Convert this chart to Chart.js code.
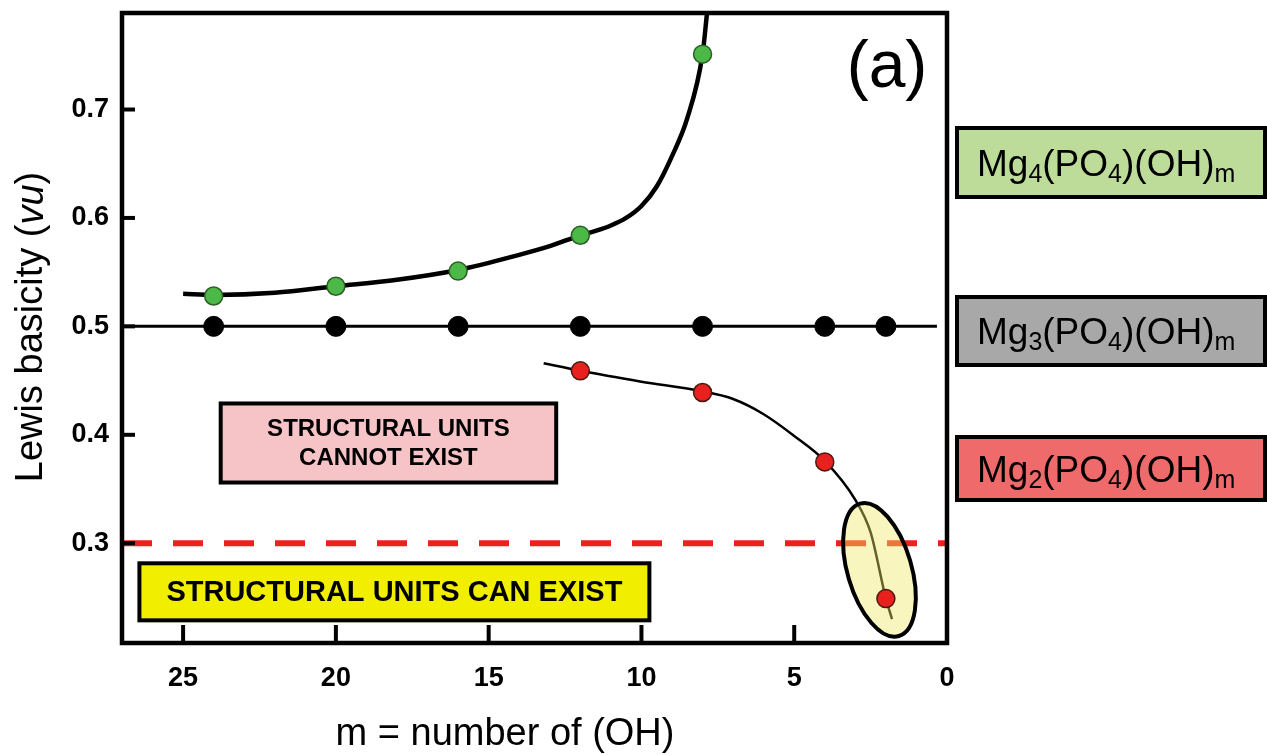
<!DOCTYPE html>
<html>
<head>
<meta charset="utf-8">
<script src="https://cdn.jsdelivr.net/npm/chart.js@4.4.1/dist/chart.umd.min.js"></script>
<style>
  html, body { margin: 0; padding: 0; background: #ffffff; }
  #wrap { width: 1267px; height: 755px; position: relative; }
</style>
</head>
<body>
<div id="wrap"><canvas id="chart"></canvas></div>
<script>
const FONT = "'Liberation Sans', Arial, Helvetica, sans-serif";

// m = number of (OH) groups, Lewis basicity in valence units
const mg4M  = [24, 20, 16, 12, 8];
const mg4LB = [0.528, 0.537, 0.551, 0.584, 0.751];

const mg3M  = [24, 20, 16, 12, 8, 4, 2];
const mg3LB = [0.5, 0.5, 0.5, 0.5, 0.5, 0.5, 0.5];

const mg2M  = [12, 8, 4, 2];
const mg2LB = [0.459, 0.439, 0.375, 0.249];

// trend curves through each family
const mg4FitM  = [25, 24, 22, 20, 18, 16, 14, 13, 12, 11.5, 11, 10.5, 10, 9.5, 9, 8.5, 8, 7.85];
const mg4FitLB = [0.530, 0.529, 0.531, 0.537, 0.543, 0.552, 0.566, 0.574, 0.584, 0.588, 0.593, 0.600, 0.611, 0.629, 0.657, 0.692, 0.751, 0.790];

const mg3FitM  = [27, 0.33];
const mg3FitLB = [0.5, 0.5];

const mg2FitM  = [13.2, 12, 10, 8, 7, 6, 5, 4, 3, 2.5, 2, 1.8];
const mg2FitLB = [0.466, 0.459, 0.449, 0.440, 0.433, 0.419, 0.399, 0.376, 0.340, 0.310, 0.249, 0.230];

// lower limit of Lewis basicity for stable structural units
const thresholdLB = 0.3;

// axis ticks
const xTicks = [25, 20, 15, 10, 5, 0];
const yTicks = [0.3, 0.4, 0.5, 0.6, 0.7];

// highlighted member (m = 2) marked by an ellipse
const highlightM = 2.21;
const highlightLB = 0.2755;

const pts = (xs, ys) => xs.map((x, i) => ({ x: x, y: ys[i] }));

// region labels, placed in data coordinates
const regionBoxes = [
  { x0: 23.77, x1: 12.79, y0: 0.4289, y1: 0.356, fill: '#f6c3c7',
    lines: ['STRUCTURAL UNITS', 'CANNOT EXIST'], size: 24, lineGap: 29 },
  { x0: 26.43, x1: 9.74, y0: 0.2815, y1: 0.2289, fill: '#f2ee00',
    lines: ['STRUCTURAL UNITS CAN EXIST'], size: 29, lineGap: 0 }
];

// formula legend on the right
const legendItems = [
  { top: 128, bottom: 197, fill: '#bddc9a', parts: [['Mg', 0], ['4', 1], ['(PO', 0], ['4', 1], [')(OH)', 0], ['m', 1]] },
  { top: 297, bottom: 365, fill: '#a8a8a8', parts: [['Mg', 0], ['3', 1], ['(PO', 0], ['4', 1], [')(OH)', 0], ['m', 1]] },
  { top: 437, bottom: 500, fill: '#ef6a6a', parts: [['Mg', 0], ['2', 1], ['(PO', 0], ['4', 1], [')(OH)', 0], ['m', 1]] }
];

const decorations = {
  id: 'decorations',
  afterDatasetDraw(chart, args) {
    const ds = chart.data.datasets[args.index];
    if (ds.id !== 'mg2Fit') return;
    const ctx = chart.ctx, xs = chart.scales.x, ys = chart.scales.y;
    const cx = xs.getPixelForValue(highlightM), cy = ys.getPixelForValue(highlightLB);
    ctx.save();
    ctx.beginPath();
    ctx.ellipse(cx, cy, 32, 69, -0.285, 0, Math.PI * 2);
    ctx.fillStyle = 'rgba(240, 230, 100, 0.42)';
    ctx.fill();
    ctx.lineWidth = 4;
    ctx.strokeStyle = '#000';
    ctx.stroke();
    ctx.restore();
  },
  afterDraw(chart) {
    const ctx = chart.ctx, a = chart.chartArea;
    const xs = chart.scales.x, ys = chart.scales.y;
    ctx.save();

    // inward tick marks
    ctx.strokeStyle = '#000';
    ctx.lineWidth = 4;
    yTicks.forEach(v => {
      const py = ys.getPixelForValue(v);
      ctx.beginPath(); ctx.moveTo(a.left, py); ctx.lineTo(a.left + 13, py); ctx.stroke();
    });
    xTicks.forEach(v => {
      if (v === 0) return;
      const px = xs.getPixelForValue(v);
      ctx.beginPath(); ctx.moveTo(px, a.bottom); ctx.lineTo(px, a.bottom - 18); ctx.stroke();
    });

    // plot frame
    ctx.lineWidth = 4.5;
    ctx.strokeRect(a.left, a.top, a.right - a.left, a.bottom - a.top);

    // region label boxes
    regionBoxes.forEach(b => {
      const l = xs.getPixelForValue(b.x0), r = xs.getPixelForValue(b.x1);
      const t = ys.getPixelForValue(b.y0), btm = ys.getPixelForValue(b.y1);
      ctx.fillStyle = b.fill;
      ctx.fillRect(l, t, r - l, btm - t);
      ctx.lineWidth = 4;
      ctx.strokeStyle = '#000';
      ctx.strokeRect(l, t, r - l, btm - t);
      ctx.fillStyle = '#000';
      ctx.font = 'bold ' + b.size + 'px ' + FONT;
      ctx.textAlign = 'center';
      ctx.textBaseline = 'middle';
      const cxm = (l + r) / 2, cym = (t + btm) / 2;
      const n = b.lines.length;
      b.lines.forEach((s, i) => {
        ctx.fillText(s, cxm, cym + (i - (n - 1) / 2) * b.lineGap + 1);
      });
    });

    // panel tag
    ctx.fillStyle = '#000';
    ctx.font = '66px ' + FONT;
    ctx.textAlign = 'center';
    ctx.textBaseline = 'alphabetic';
    ctx.fillText('(a)', 887, 87);

    // formula legend
    legendItems.forEach(it => {
      ctx.fillStyle = it.fill;
      ctx.fillRect(957, it.top, 308, it.bottom - it.top);
      ctx.lineWidth = 4;
      ctx.strokeStyle = '#000';
      ctx.strokeRect(957, it.top, 308, it.bottom - it.top);
      let x = 977;
      const base = (it.top + it.bottom) / 2 + 13;
      ctx.fillStyle = '#000';
      ctx.textAlign = 'left';
      ctx.textBaseline = 'alphabetic';
      it.parts.forEach(([s, sub]) => {
        ctx.font = (sub ? 25 : 37) + 'px ' + FONT;
        ctx.fillText(s, x, base + (sub ? 6 : 0));
        x += ctx.measureText(s).width;
      });
    });

    // axis titles
    ctx.fillStyle = '#000';
    ctx.font = '38px ' + FONT;
    ctx.textAlign = 'center';
    ctx.textBaseline = 'middle';
    ctx.fillText('m = number of (OH)', 505, 735);

    ctx.translate(32, 327);
    ctx.rotate(-Math.PI / 2);
    const segs = [['Lewis basicity (', '38px '], ['vu', 'italic 38px '], [')', '38px ']];
    let total = 0;
    segs.forEach(([s, f]) => { ctx.font = f + FONT; total += ctx.measureText(s).width; });
    let sx = -total / 2;
    ctx.textAlign = 'left';
    segs.forEach(([s, f]) => {
      ctx.font = f + FONT;
      ctx.fillText(s, sx, 0);
      sx += ctx.measureText(s).width;
    });
    ctx.restore();
  }
};

new Chart(document.getElementById('chart'), {
  type: 'scatter',
  data: {
    datasets: [
      { id: 'threshold', data: [{ x: 27, y: thresholdLB }, { x: 0, y: thresholdLB }], showLine: true,
        borderColor: '#e8231f', borderWidth: 6, borderDash: [30, 21], pointRadius: 0, order: 10 },
      { id: 'mg2Fit', data: pts(mg2FitM, mg2FitLB), showLine: true, cubicInterpolationMode: 'monotone',
        borderColor: '#000', borderWidth: 2.5, pointRadius: 0, order: 9 },
      { id: 'mg3Fit', data: pts(mg3FitM, mg3FitLB), showLine: true,
        borderColor: '#000', borderWidth: 3, pointRadius: 0, order: 8 },
      { id: 'mg4Fit', data: pts(mg4FitM, mg4FitLB), showLine: true, cubicInterpolationMode: 'monotone',
        borderColor: '#000', borderWidth: 4.5, pointRadius: 0, order: 8 },
      { id: 'mg4', data: pts(mg4M, mg4LB), pointRadius: 9, pointBackgroundColor: '#4cb847',
        pointBorderColor: '#2c5e26', pointBorderWidth: 1.5, order: 1 },
      { id: 'mg3', data: pts(mg3M, mg3LB), pointRadius: 10, pointBackgroundColor: '#000',
        pointBorderColor: '#000', pointBorderWidth: 1, order: 1 },
      { id: 'mg2', data: pts(mg2M, mg2LB), pointRadius: 9, pointBackgroundColor: '#e8201e',
        pointBorderColor: '#4a1a12', pointBorderWidth: 1.5, order: 1 }
    ]
  },
  options: {
    responsive: true,
    maintainAspectRatio: false,
    animation: false,
    layout: { padding: { top: 13, right: 320, left: 0, bottom: 0 } },
    plugins: { legend: { display: false }, tooltip: { enabled: false } },
    scales: {
      x: {
        type: 'linear', reverse: true, min: 0, max: 27,
        grid: { display: false, drawTicks: false },
        border: { display: false },
        afterBuildTicks: s => { s.ticks = xTicks.map(v => ({ value: v })); },
        afterFit: s => { s.height = 112; s.paddingLeft = 0; s.paddingRight = 0; },
        ticks: { padding: 19, color: '#000', font: { family: FONT, size: 27, weight: 'bold' },
                 callback: v => String(v) }
      },
      y: {
        type: 'linear', min: 0.208, max: 0.789,
        grid: { display: false, drawTicks: false },
        border: { display: false },
        afterBuildTicks: s => { s.ticks = yTicks.map(v => ({ value: v })); },
        afterFit: s => { s.width = 122; s.paddingTop = 0; s.paddingBottom = 0; },
        ticks: { padding: 13, color: '#000', font: { family: FONT, size: 27, weight: 'bold' },
                 callback: v => Number(v).toFixed(1) }
      }
    }
  },
  plugins: [decorations]
});
</script>
</body>
</html>
